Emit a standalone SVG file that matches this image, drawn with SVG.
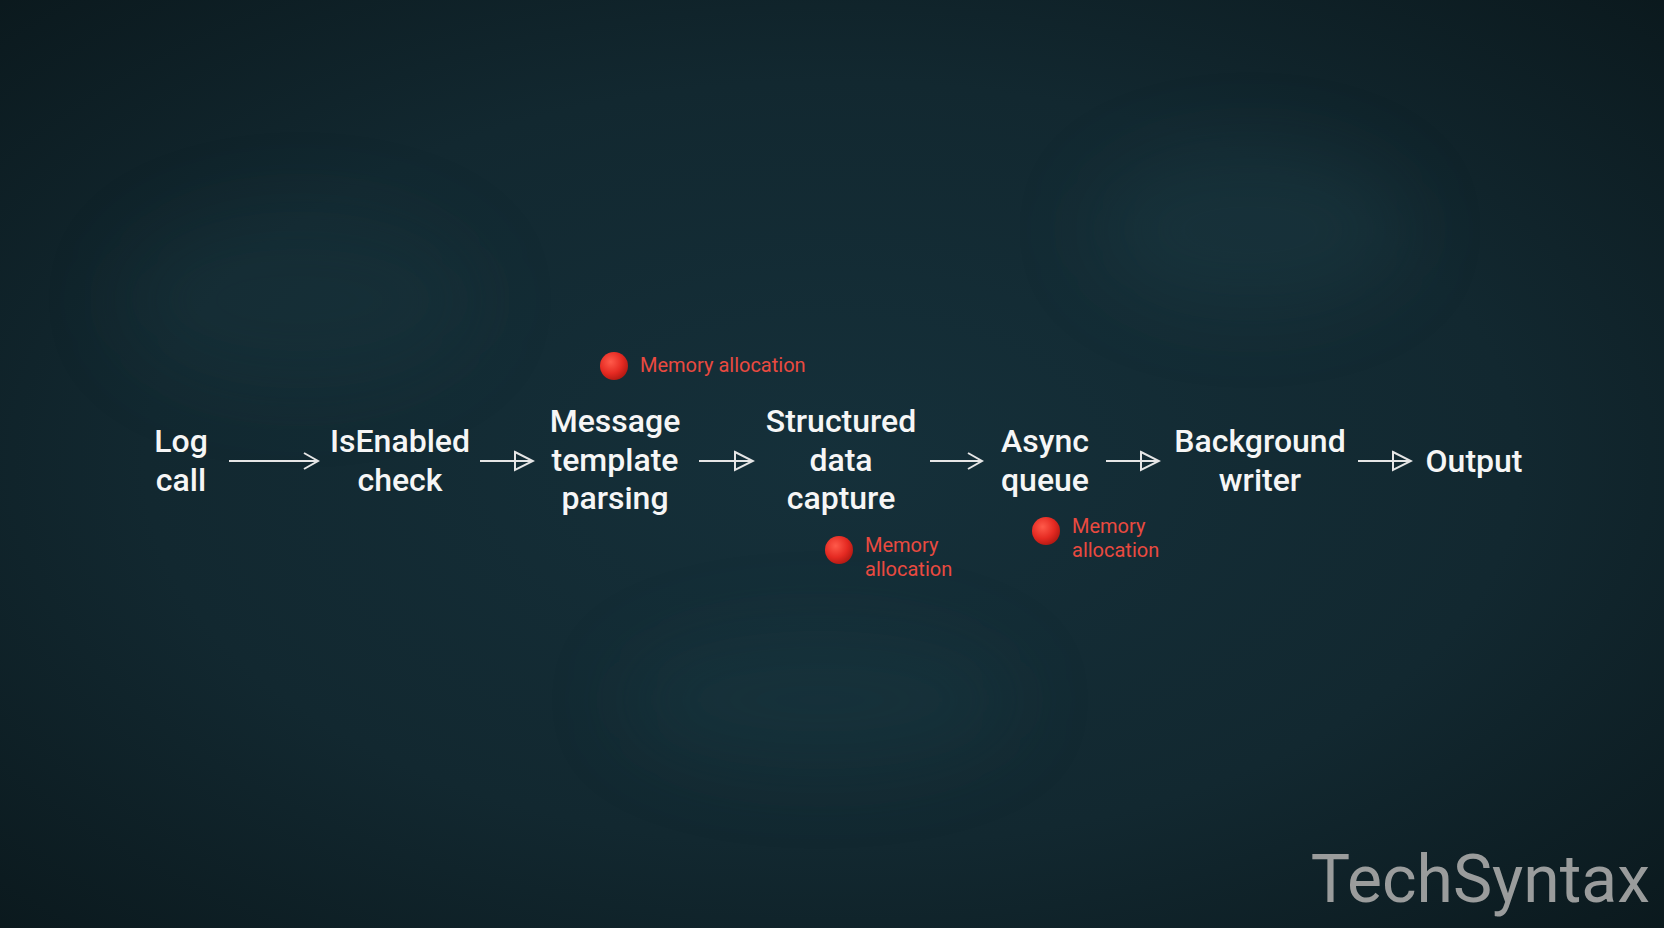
<svg xmlns="http://www.w3.org/2000/svg" width="1664" height="928" viewBox="0 0 1664 928">
<defs>
<radialGradient id="bg" cx="0.5" cy="0.5" r="0.75">
<stop offset="0" stop-color="#15303a"/>
<stop offset="0.55" stop-color="#122830"/>
<stop offset="1" stop-color="#0a171b"/>
</radialGradient>
<radialGradient id="dot" cx="0.38" cy="0.35" r="0.7">
<stop offset="0" stop-color="#ff5a4a"/>
<stop offset="0.6" stop-color="#e52a22"/>
<stop offset="1" stop-color="#b01812"/>
</radialGradient>
<filter id="blur" x="-50%" y="-50%" width="200%" height="200%"><feGaussianBlur stdDeviation="40"/></filter>
<marker id="chev" viewBox="0 0 20 20" refX="18" refY="10" markerWidth="20" markerHeight="20" markerUnits="userSpaceOnUse" orient="auto">
<path d="M4 2 L18 10 L4 18" fill="none" stroke="#e6e6e6" stroke-width="2"/>
</marker>
<marker id="tri" viewBox="0 0 22 22" refX="20" refY="11" markerWidth="22" markerHeight="22" markerUnits="userSpaceOnUse" orient="auto">
<path d="M2 2 L20 11 L2 20 Z" fill="none" stroke="#e6e6e6" stroke-width="2" stroke-linejoin="miter"/>
</marker>
</defs>
<style>
.n{font-family:Roboto,"Liberation Sans",sans-serif;font-size:32px;font-weight:500;fill:#f6f6f6;text-anchor:middle}
.m{font-family:Roboto,"Liberation Sans",sans-serif;font-size:20px;font-weight:400;fill:#ea4a40}
.c{fill:none;stroke:#e6e6e6;stroke-width:2}
</style>
<rect width="1664" height="928" fill="url(#bg)"/>
<g filter="url(#blur)" opacity="0.3">
<ellipse cx="1250" cy="230" rx="160" ry="80" fill="#23444e"/>
<ellipse cx="820" cy="700" rx="200" ry="70" fill="#1f3f48"/>
<ellipse cx="300" cy="300" rx="180" ry="90" fill="#1d3a42"/>
</g>
<g id="connectors">
<line class="c" x1="229" y1="461" x2="318" y2="461" marker-end="url(#chev)"/>
<line class="c" x1="480" y1="461" x2="533" y2="461" marker-end="url(#tri)"/>
<line class="c" x1="699" y1="461" x2="753" y2="461" marker-end="url(#tri)"/>
<line class="c" x1="930" y1="461" x2="982" y2="461" marker-end="url(#chev)"/>
<line class="c" x1="1106" y1="461" x2="1159" y2="461" marker-end="url(#tri)"/>
<line class="c" x1="1358" y1="461" x2="1411" y2="461" marker-end="url(#tri)"/>
</g>
<g id="log-call"><text class="n" x="181" y="452">Log</text><text class="n" x="181" y="491">call</text></g>
<g id="isenabled-check"><text class="n" x="400" y="452">IsEnabled</text><text class="n" x="400" y="491">check</text></g>
<g id="message-template-parsing"><text class="n" x="615" y="432">Message</text><text class="n" x="615" y="471">template</text><text class="n" x="615" y="509">parsing</text></g>
<g id="structured-data-capture"><text class="n" x="841" y="432">Structured</text><text class="n" x="841" y="471">data</text><text class="n" x="841" y="509">capture</text></g>
<g id="async-queue"><text class="n" x="1045" y="452">Async</text><text class="n" x="1045" y="491">queue</text></g>
<g id="background-writer"><text class="n" x="1260" y="452">Background</text><text class="n" x="1260" y="491">writer</text></g>
<g id="output"><text class="n" x="1474" y="472">Output</text></g>
<g id="mem1"><circle cx="614" cy="366" r="14" fill="url(#dot)"/><text class="m" x="640" y="372">Memory allocation</text></g>
<g id="mem2"><circle cx="839" cy="550" r="14" fill="url(#dot)"/><text class="m" x="865" y="552">Memory</text><text class="m" x="865" y="576">allocation</text></g>
<g id="mem3"><circle cx="1046" cy="531" r="14" fill="url(#dot)"/><text class="m" x="1072" y="533">Memory</text><text class="m" x="1072" y="557">allocation</text></g>
<text x="1650" y="902" text-anchor="end" font-family="Roboto,'Liberation Sans',sans-serif" font-size="66" fill="#9a9c9c">TechSyntax</text>
</svg>
